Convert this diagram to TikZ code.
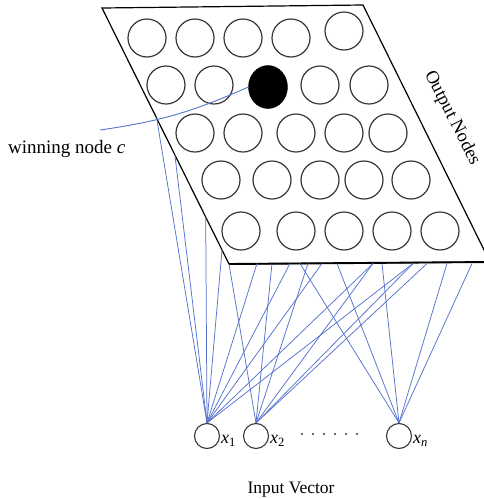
\documentclass[tikz,border=0pt]{standalone}
\usepackage{fontspec}
\setmainfont{Liberation Serif}
\usetikzlibrary{shapes.geometric}
\definecolor{wireblue}{RGB}{85,115,205}
\definecolor{ringgray}{RGB}{55,55,55}
\begin{document}
\begin{tikzpicture}[x=1pt,y=-1pt,
  onode/.style={circle,draw=ringgray,line width=1.2pt,minimum size=38pt,inner sep=0pt},
  inode/.style={circle,draw=ringgray,line width=1.1pt,minimum size=25pt,inner sep=0pt},
  wire/.style={draw=wireblue,line width=0.75pt},
  lbl/.style={font=\fontsize{18}{20}\selectfont,inner sep=0pt}]
\useasboundingbox (0,0) rectangle (484,499);
\fill[white] (0,0) rectangle (484,499);
% plane of output nodes
\coordinate (TL) at (102,8);
\coordinate (TR) at (363,5);
\coordinate (BR) at (490,262);
\coordinate (BL) at (229,264);
\draw[line width=1.2pt] (TL) -- (TR) -- (BR) -- (BL) -- cycle;
\draw[line width=1.9pt] (BL) -- (BR);
% output nodes
\foreach \n/\x/\y in {11/147/38,12/195/38,13/243/38,14/291/38,15/344/31,
                      21/166/85,22/214/85,24/320/85,25/369/85,
                      31/195/133,32/243/133,33/296/133,34/344/133,35/388/133,
                      41/221/180,42/272/180,43/320/180,44/364/180,45/411/180,
                      51/241/231,52/296/231,53/344/231,54/392/231,55/440/231}
  \node[onode] (o\n) at (\x,\y) {};
\node[ellipse,fill=black,draw=black,minimum width=39pt,minimum height=43pt,inner sep=0pt] (o23) at (268,87) {};
% labels
\node[lbl,font=\fontsize{18.5}{20}\selectfont,rotate=-63] (outlbl) at (452,118) {Output Nodes};
\node[lbl,font=\fontsize{19}{21}\selectfont,anchor=base west] (win) at (8,153) {winning node \textit{c}};
\coordinate (wstart) at (100,130);
\draw[wire,line width=0.9pt] (wstart) to[bend right=8] (o23.west);
% input nodes
\node[inode] (x1) at (207,436) {};
\node[inode] (x2) at (256,436) {};
\node[inode] (xn) at (399,436) {};
\node[lbl,anchor=west] (lx1) at (221,441) {\textit{x}\textsubscript{1}};
\node[lbl,anchor=west] (lx2) at (270,441) {\textit{x}\textsubscript{2}};
\node[lbl,anchor=west] (lxn) at (413,441) {\textit{x}\textsubscript{\textit{n}}};
\foreach \i in {0,...,5} \fill[ringgray] (302+11*\i,434) circle (1.1pt);
\node[lbl,font=\fontsize{17.5}{20}\selectfont,anchor=base] (inlbl) at (291,493) {Input Vector};
% end points on the plane
\coordinate (L1) at (156.6,118);
\coordinate (L2) at (174.9,155);
\coordinate (L3) at (205.7,217);
\coordinate (L4) at (222,250);
\foreach \b in {257,272,290,300,308,322,337,373,382,413,427,447,472}
  \coordinate (B\b) at (\b,263.5);
% connections
\foreach \t in {L1,L2,L3,L4,B257,B290,B322,B373,B413}
  \draw[wire] (x1.north) -- (\t);
\foreach \t in {BL,B272,B308,B373,B413,B427}
  \draw[wire] (x2.north) -- (\t);
\foreach \t in {B300,B337,B382,B447,B472}
  \draw[wire] (xn.north) -- (\t);
\end{tikzpicture}
\end{document}
